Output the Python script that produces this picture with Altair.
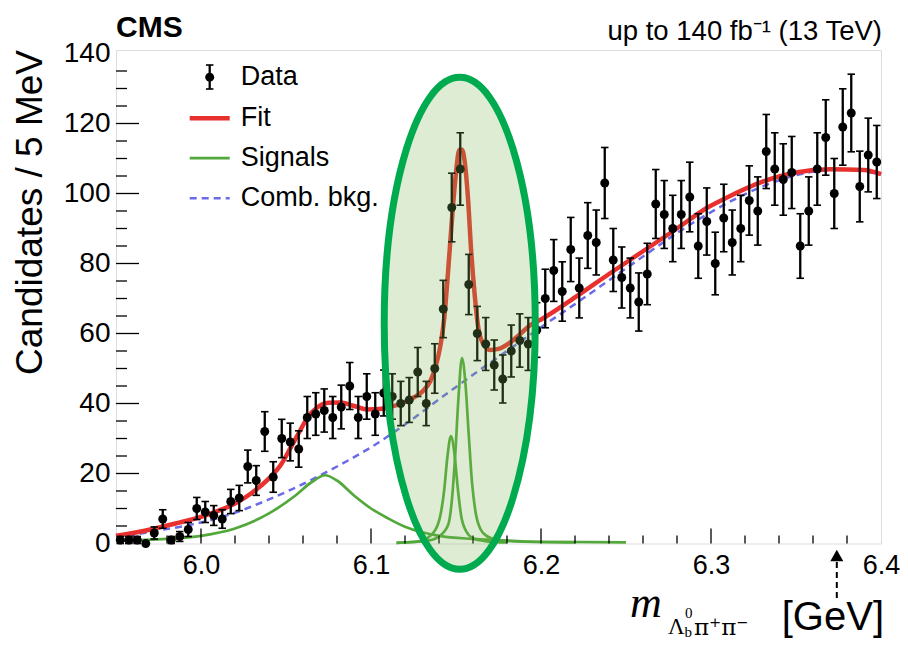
import altair as alt
import pandas as pd

# ---------------- data ----------------
counts = [1, 1, 1, 0, 3, 7, 1, 2, 4, 10, 9, 8, 7, 12, 13, 22, 18, 32, 19, 30,
          29, 27, 36, 37, 38, 36, 39, 45, 36, 42, 37, 43, 42, 40, 41, 49, 40, 50, 67, 96,
          107, 74, 60, 57, 51, 47, 55, 58, 57, 61, 70, 78, 72, 84, 73, 88, 86, 103, 81, 76,
          73, 69, 77, 97, 94, 90, 94, 99, 85, 92, 80, 93, 86, 90, 98, 95, 112, 107, 104, 106,
          85, 95, 107, 116, 100, 119, 123, 102, 111, 109]
bin_centers = [round(5.9525 + 0.005 * i, 4) for i in range(len(counts))]

fit_x = [5.95, 5.96, 5.973, 5.985, 6.0, 6.01, 6.02, 6.03, 6.04, 6.047, 6.053, 6.058,
         6.063, 6.068, 6.075, 6.082, 6.09, 6.098, 6.105, 6.111, 6.118, 6.124, 6.13,
         6.135, 6.138, 6.141, 6.143, 6.146, 6.148, 6.15, 6.152, 6.1535, 6.155, 6.157,
         6.159, 6.161, 6.163, 6.166, 6.17, 6.175, 6.18, 6.187, 6.194, 6.2, 6.22, 6.24,
         6.26, 6.28, 6.298, 6.31, 6.33, 6.35, 6.37, 6.39, 6.4]
fit_y = [2.2, 3.0, 4.3, 5.7, 7.6, 9.3, 11.4, 14.5, 18.6, 22.5, 27.6, 32.0,
         36.2, 38.7, 40.2, 40.3, 39.3, 38.3, 38.4, 39.0, 40.0, 41.4, 43.3,
         46.5, 50.5, 57.0, 64.0, 82.0, 95.0, 106.0, 112.5, 112.5, 109.5, 99.0,
         83.0, 71.0, 62.0, 57.0, 55.3, 55.6, 56.8, 59.5, 62.5, 64.0, 70.3, 77.0,
         83.5, 90.0, 96.0, 99.0, 103.3, 106.0, 106.9, 106.7, 105.5]

bkg_x = [5.95, 5.97, 5.99, 6.0, 6.02, 6.04, 6.06, 6.08, 6.10, 6.12, 6.14, 6.16,
         6.18, 6.20, 6.22, 6.24, 6.26, 6.28, 6.30, 6.32, 6.34, 6.36, 6.38, 6.40]
bkg_y = [1.5, 3.3, 5.0, 6.0, 8.8, 12.6, 17.0, 22.0, 27.5, 34.0, 41.2, 48.2,
         55.0, 61.8, 68.4, 75.2, 82.0, 88.7, 94.7, 99.8, 103.8, 106.2, 106.9, 105.4]

sig1_x = [5.95, 5.98, 6.0, 6.02, 6.04, 6.055, 6.065, 6.073, 6.08, 6.09, 6.10, 6.11,
          6.12, 6.13, 6.14, 6.16, 6.18, 6.20, 6.25]
sig1_y = [0.8, 1.3, 2.2, 4.3, 8.6, 13.5, 17.5, 19.5, 18.0, 13.7, 10.0, 7.2,
          4.8, 3.2, 2.2, 1.3, 0.8, 0.5, 0.3]

sig2_x = [6.115, 6.127, 6.133, 6.139, 6.141, 6.143, 6.145, 6.147, 6.149, 6.151,
          6.153, 6.156, 6.160, 6.167, 6.18]
sig2_y = [0.2, 0.5, 1.5, 5.0, 8.5, 15.0, 25.0, 30.7, 26.0, 16.0, 8.0, 3.5, 1.5, 0.7, 0.3]

sig3_x = [6.115, 6.1335, 6.1405, 6.1455, 6.1475, 6.1495, 6.1515, 6.1535, 6.1555,
          6.1575, 6.1595, 6.1615, 6.1645, 6.1685, 6.175, 6.19, 6.22]
sig3_y = [0.2, 0.8, 2.2, 5.5, 12.0, 25.0, 42.0, 53.0, 46.0, 31.0, 17.0, 9.0, 4.0,
          2.0, 1.0, 0.5, 0.3]

x_labels = [6.0, 6.1, 6.2, 6.3, 6.4]
y_labels = [0, 20, 40, 60, 80, 100, 120, 140]
x_major = [6.0, 6.1, 6.2, 6.3]
x_minor = [5.96, 5.98, 6.02, 6.04, 6.06, 6.08, 6.12, 6.14, 6.16, 6.18,
           6.22, 6.24, 6.26, 6.28, 6.32, 6.34, 6.36, 6.38]
y_major = [20, 40, 60, 80, 100, 120]
y_minor = [5, 10, 15, 25, 30, 35, 45, 50, 55, 65, 70, 75, 85, 90, 95,
           105, 110, 115, 125, 130, 135]

ellipse_center = {"x": [6.1522], "y": [62.9]}
arrow_x = [6.374]

# ---------------- chart ----------------
W, H = 765, 493.5
FONT = "Liberation Sans"
xs = alt.Scale(domain=[5.95, 6.4], nice=False, zero=False)
ys = alt.Scale(domain=[0, 141], nice=False, zero=False)
xaxis = alt.Axis(values=x_labels, format=".1f", title=None, labelFontSize=27,
                 labelFont=FONT, labelColor="black", labelPadding=9,
                 labelFlush=False, domain=False, ticks=False, grid=False)
yaxis = alt.Axis(values=y_labels, title=None, labelFontSize=28, labelFont=FONT,
                 labelColor="black", labelPadding=6, labelFlush=False,
                 domain=False, ticks=False, grid=False)


def X(field):
    return alt.X(field, scale=xs, axis=xaxis, title=None)


def Y(field):
    return alt.Y(field, scale=ys, axis=yaxis, title=None)


df = pd.DataFrame({"mass": bin_centers, "count": counts})
fit_df = pd.DataFrame({"x": fit_x, "y": fit_y})
bkg_df = pd.DataFrame({"x": bkg_x, "y": bkg_y})
sig_df = pd.concat([
    pd.DataFrame({"x": sig1_x, "y": sig1_y, "s": "broad"}),
    pd.DataFrame({"x": sig2_x, "y": sig2_y, "s": "narrow1"}),
    pd.DataFrame({"x": sig3_x, "y": sig3_y, "s": "narrow2"}),
])

base_err = alt.Chart(df).transform_calculate(
    lo="datum.count - sqrt(datum.count)", hi="datum.count + sqrt(datum.count)")

bars = base_err.mark_rule(color="black", strokeWidth=2.3).encode(
    x=X("mass:Q"), y=Y("lo:Q"), y2="hi:Q")
caps = base_err.transform_fold(["lo", "hi"]).mark_point(
    shape="M-1,0L1,0", size=56, stroke="black", strokeWidth=1.6, opacity=1,
    filled=False).encode(x=X("mass:Q"), y=Y("value:Q"))
pts = alt.Chart(df).mark_circle(size=80, color="black", opacity=1).encode(
    x=X("mass:Q"), y=Y("count:Q"))

bkg = alt.Chart(bkg_df).mark_line(color="#6b6bea", strokeWidth=2.5, strokeDash=[7, 5],
                                  interpolate="monotone").encode(x=X("x:Q"), y=Y("y:Q"))
sig = alt.Chart(sig_df).mark_line(color="#52a83a", strokeWidth=2.7,
                                  interpolate="monotone").encode(
    x=X("x:Q"), y=Y("y:Q"), detail="s:N")
fit = alt.Chart(fit_df).mark_line(color="#e8302e", strokeWidth=4.5,
                                  interpolate="monotone").encode(x=X("x:Q"), y=Y("y:Q"))


# inner ticks (ROOT style)
def xticks(vals, length):
    return alt.Chart(pd.DataFrame({"t": vals})).mark_rule(color="black", strokeWidth=1.3).encode(
        x=X("t:Q"), y=alt.value(H), y2=alt.value(H - length))


def yticks(vals, length):
    return alt.Chart(pd.DataFrame({"t": vals})).mark_rule(color="black", strokeWidth=1.3).encode(
        y=Y("t:Q"), x=alt.value(0), x2=alt.value(length))


ELLIPSE = "M0,-1 A0.307,1 0 1,1 0,1 A0.307,1 0 1,1 0,-1 Z"
ellipse = alt.Chart(pd.DataFrame(ellipse_center)).mark_point(
    shape=ELLIPSE, size=242064, filled=True, fill="#7db553", fillOpacity=0.26,
    stroke="#00aa4e", strokeWidth=7, strokeOpacity=1, opacity=1).encode(
    x=X("x:Q"), y=Y("y:Q"))

arrow_df = pd.DataFrame({"x": arrow_x})
arrow_head = alt.Chart(arrow_df).mark_point(shape="triangle-up", size=170, filled=True,
                                            color="black", opacity=1).encode(
    x=X("x:Q"), y=alt.value(505.5))
arrow_line = alt.Chart(arrow_df).mark_rule(color="black", strokeWidth=2,
                                           strokeDash=[6, 4]).encode(
    x=X("x:Q"), y=alt.value(512), y2=alt.value(549))


one = pd.DataFrame({"a": [0]})


def txt(s, x, y, size, **kw):
    props = dict(text=s, fontSize=size, font=FONT, color="black",
                 align="left", baseline="alphabetic")
    props.update(kw)
    return alt.Chart(one).mark_text(**props).encode(x=alt.value(x), y=alt.value(y))


def seg(x1, x2, y, **kw):
    return alt.Chart(one).mark_rule(**kw).encode(
        x=alt.value(x1), x2=alt.value(x2), y=alt.value(y))


legend = [
    alt.Chart(one).mark_rule(color="black", strokeWidth=2.3).encode(
        x=alt.value(93.7), y=alt.value(15), y2=alt.value(39)),
    alt.Chart(pd.DataFrame({"yy": [15, 39]})).mark_point(
        shape="M-1,0L1,0", size=56, stroke="black", strokeWidth=1.6, opacity=1).encode(
        x=alt.value(93.7), y=alt.Y("yy:Q", scale=None, axis=None)),
    alt.Chart(one).mark_circle(size=80, color="black", opacity=1).encode(
        x=alt.value(93.7), y=alt.value(27.2)),
    seg(73.7, 113.7, 68.2, color="#e8302e", strokeWidth=4.5),
    seg(73.7, 113.7, 108.2, color="#52a83a", strokeWidth=2.7),
    seg(73.7, 113.7, 148.2, color="#6b6bea", strokeWidth=2.5, strokeDash=[7, 5]),
    txt("Data", 124.7, 27.2, 27, baseline="middle"),
    txt("Fit", 124.7, 68.2, 27, baseline="middle"),
    txt("Signals", 124.7, 108.2, 27, baseline="middle"),
    txt("Comb. bkg.", 124.7, 148.2, 27, baseline="middle"),
]

texts = [
    txt("CMS", 0, -13, 30, fontWeight="bold"),
    txt("up to 140 fb\u207b\u00b9 (13 TeV)", 766, -10, 27.5, align="right"),
    txt("Candidates / 5 MeV", -74, 0, 37, angle=270, align="right"),
    txt("m", 514, 567, 44, font="Liberation Serif", fontStyle="italic"),
    txt("\u039b", 552, 584, 23, font="Liberation Serif"),
    txt("0", 569, 568, 15, font="Liberation Serif"),
    txt("b", 568.5, 587, 15, font="Liberation Serif"),
    txt("\u03c0\u207a\u03c0\u207b", 578, 585, 23, font="DejaVu Serif"),
    txt("[GeV]", 768, 580, 40, align="right"),
]

layers = ([bkg, sig, fit, bars, caps, pts,
           xticks(x_major, 15), xticks(x_minor, 8), yticks(y_major, 23), yticks(y_minor, 11)]
          + legend + [ellipse, arrow_head, arrow_line] + texts)

chart = alt.layer(*layers).properties(
    width=W, height=H, autosize="none",
    padding={"left": 108, "top": 42, "right": 19, "bottom": 99},
).configure_view(stroke="black", strokeWidth=1.5).configure(background="white")

chart.save("out.html", embed_options={"renderer": "svg", "actions": False})
